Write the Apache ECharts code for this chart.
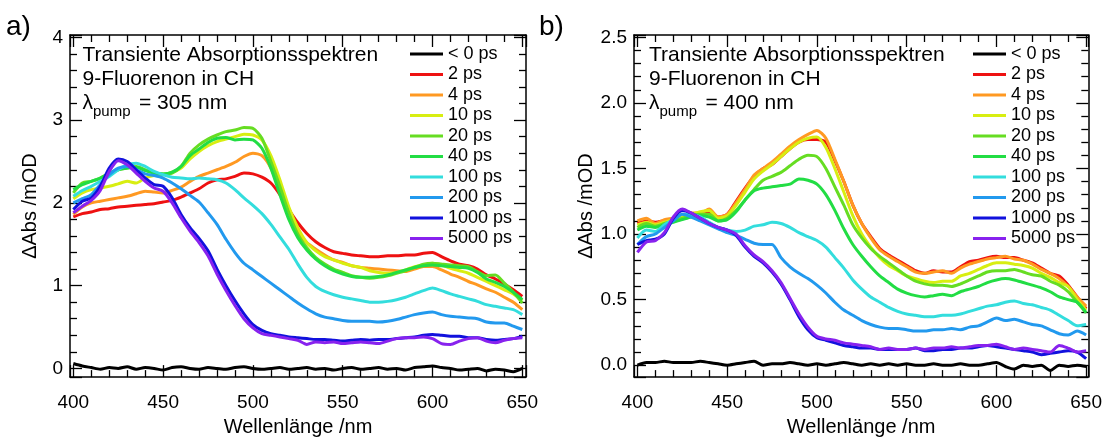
<!DOCTYPE html>
<html>
<head>
<meta charset="utf-8">
<script src="https://cdn.jsdelivr.net/npm/echarts@6/dist/echarts.min.js"></script>
<style>
html,body{margin:0;padding:0;background:#fff;}
#c{width:1105px;height:442px;}
</style>
</head>
<body>
<div id="c"></div>
<script>
// ---------- data ----------
const wavelengths = [400,405,410,415,420,425,430,435,440,445,450,455,460,465,470,475,480,485,490,495,500,505,510,515,520,525,530,535,540,545,550,555,560,565,570,575,580,585,590,595,600,605,610,615,620,625,630,635,640,645,650];
const seriesNames = ['< 0 ps','2 ps','4 ps','10 ps','20 ps','40 ps','100 ps','200 ps','1000 ps','5000 ps'];
const seriesColors = ['#000000','#ee1111','#ff9922','#d8ee11','#66dd22','#22dd44','#33dddd','#2299ee','#1111dd','#8822ee'];
const xTickLabels = ['400','450','500','550','600','650'];
const yTickLabelsA = ['0','1','2','3','4'];
const yTickLabelsB = ['0.0','0.5','1.0','1.5','2.0','2.5'];

// panel a) lambda_pump = 305 nm
const a_m0 = [0.06,0.03,0.01,-0.01,0.01,0.00,0.02,-0.01,0.01,0.00,
  -0.02,0.01,0.02,0.00,-0.01,0.01,0.00,-0.01,0.01,0.02,
  0.00,-0.01,0.00,0.01,-0.01,0.00,0.01,-0.01,0.00,-0.02,
  0.00,0.01,-0.01,0.00,0.01,-0.01,0.00,-0.02,0.01,0.02,
  0.03,0.01,0.00,-0.02,-0.01,0.00,-0.03,-0.01,-0.02,-0.04,0.00];
const a_2 = [1.83,1.87,1.89,1.92,1.93,1.95,1.96,1.97,1.98,1.99,
  2.01,2.03,2.07,2.12,2.17,2.24,2.28,2.29,2.32,2.36,
  2.35,2.31,2.24,2.10,1.92,1.76,1.63,1.53,1.46,1.41,
  1.39,1.37,1.36,1.35,1.35,1.36,1.36,1.37,1.37,1.39,
  1.40,1.35,1.30,1.26,1.24,1.20,1.13,1.08,1.02,0.95,0.87];
const a_4 = [1.86,1.95,2.00,2.02,2.04,2.06,2.08,2.11,2.14,2.13,
  2.12,2.15,2.19,2.26,2.32,2.36,2.40,2.44,2.49,2.56,
  2.60,2.57,2.42,2.15,1.90,1.66,1.52,1.44,1.37,1.31,
  1.28,1.24,1.22,1.21,1.20,1.19,1.18,1.17,1.20,1.23,
  1.23,1.19,1.14,1.10,1.05,1.01,0.96,0.92,0.86,0.80,0.71];
const a_10 = [2.05,2.12,2.16,2.18,2.20,2.23,2.26,2.24,2.30,2.33,
  2.34,2.37,2.42,2.53,2.62,2.69,2.74,2.77,2.80,2.83,
  2.82,2.76,2.57,2.28,1.95,1.70,1.52,1.42,1.35,1.31,
  1.27,1.24,1.22,1.18,1.16,1.15,1.16,1.19,1.23,1.25,
  1.27,1.25,1.21,1.18,1.15,1.10,1.05,1.00,0.95,0.90,0.82];
const a_20 = [2.12,2.24,2.26,2.30,2.36,2.40,2.42,2.44,2.40,2.36,
  2.35,2.36,2.44,2.60,2.70,2.77,2.82,2.86,2.88,2.91,
  2.90,2.78,2.50,2.20,1.88,1.62,1.46,1.34,1.26,1.20,
  1.16,1.12,1.10,1.09,1.10,1.12,1.15,1.18,1.22,1.26,
  1.27,1.26,1.25,1.24,1.23,1.17,1.12,1.13,1.03,0.92,0.79];
const a_40 = [2.16,2.22,2.26,2.30,2.35,2.40,2.42,2.43,2.39,2.36,
  2.35,2.37,2.44,2.57,2.65,2.73,2.78,2.79,2.76,2.77,
  2.76,2.66,2.42,2.10,1.80,1.58,1.43,1.32,1.24,1.18,
  1.14,1.11,1.10,1.10,1.11,1.13,1.16,1.19,1.22,1.24,
  1.25,1.24,1.23,1.22,1.21,1.16,1.08,1.04,0.99,0.92,0.83];
const a_100 = [2.08,2.15,2.20,2.26,2.32,2.40,2.46,2.48,2.44,2.38,
  2.34,2.31,2.30,2.29,2.30,2.29,2.28,2.24,2.16,2.06,
  1.97,1.87,1.74,1.59,1.44,1.26,1.10,0.99,0.93,0.89,
  0.86,0.84,0.82,0.80,0.80,0.81,0.83,0.86,0.90,0.94,
  0.97,0.94,0.90,0.87,0.84,0.81,0.77,0.75,0.73,0.71,0.65];
const a_200 = [2.00,2.05,2.10,2.22,2.34,2.42,2.44,2.40,2.35,2.33,
  2.30,2.24,2.17,2.09,2.01,1.88,1.74,1.56,1.40,1.27,
  1.19,1.11,1.03,0.95,0.87,0.79,0.72,0.66,0.62,0.60,
  0.58,0.57,0.57,0.57,0.56,0.57,0.59,0.62,0.65,0.67,
  0.68,0.65,0.63,0.62,0.61,0.60,0.56,0.55,0.55,0.51,0.47];
const a_1000 = [1.92,2.02,2.06,2.20,2.42,2.53,2.50,2.40,2.30,2.22,
  2.20,2.06,1.86,1.70,1.57,1.42,1.20,1.00,0.82,0.66,
  0.53,0.46,0.42,0.40,0.38,0.37,0.36,0.35,0.35,0.34,
  0.33,0.34,0.35,0.34,0.35,0.35,0.36,0.37,0.38,0.40,
  0.41,0.40,0.39,0.39,0.37,0.37,0.35,0.34,0.35,0.36,0.39];
const a_5000 = [1.88,1.96,2.03,2.15,2.38,2.51,2.46,2.36,2.26,2.18,
  2.14,2.00,1.82,1.66,1.52,1.36,1.14,0.94,0.76,0.60,
  0.49,0.42,0.40,0.38,0.36,0.34,0.29,0.32,0.31,0.32,
  0.30,0.31,0.32,0.31,0.30,0.33,0.36,0.37,0.37,0.38,
  0.36,0.30,0.29,0.33,0.36,0.37,0.33,0.31,0.34,0.36,0.37];

// panel b) lambda_pump = 400 nm
const b_m0 = [0.00,0.02,0.02,0.03,0.02,0.02,0.02,0.03,0.02,0.01,
  0.00,0.01,0.02,0.03,0.00,0.01,0.01,0.02,0.01,0.00,
  0.01,0.00,0.01,0.02,0.01,0.00,0.01,0.00,0.01,0.00,
  0.01,0.00,0.00,0.01,0.00,0.00,0.01,0.00,0.00,0.01,
  0.02,-0.01,-0.03,0.00,-0.01,0.00,-0.04,0.00,-0.01,0.00,-0.01];
const b_2 = [1.08,1.10,1.09,1.10,1.11,1.13,1.15,1.16,1.17,1.13,
  1.15,1.25,1.35,1.44,1.50,1.53,1.59,1.65,1.70,1.72,
  1.72,1.70,1.56,1.40,1.22,1.08,0.98,0.89,0.84,0.80,
  0.76,0.72,0.70,0.72,0.71,0.71,0.75,0.79,0.80,0.82,
  0.83,0.82,0.82,0.80,0.78,0.74,0.70,0.68,0.61,0.52,0.43];
const b_4 = [1.10,1.12,1.08,1.11,1.12,1.14,1.16,1.16,1.19,1.13,
  1.15,1.24,1.34,1.45,1.50,1.55,1.61,1.67,1.72,1.76,
  1.79,1.73,1.57,1.40,1.22,1.08,0.97,0.88,0.83,0.79,
  0.75,0.71,0.70,0.71,0.72,0.70,0.74,0.77,0.79,0.81,
  0.82,0.83,0.81,0.80,0.77,0.73,0.70,0.66,0.60,0.52,0.45];
const b_10 = [1.07,1.09,1.07,1.09,1.11,1.13,1.15,1.17,1.18,1.12,
  1.14,1.22,1.32,1.42,1.48,1.53,1.59,1.65,1.70,1.73,
  1.74,1.66,1.50,1.32,1.14,1.00,0.90,0.82,0.76,0.72,
  0.68,0.66,0.64,0.63,0.64,0.64,0.68,0.70,0.73,0.76,
  0.78,0.78,0.77,0.76,0.74,0.70,0.67,0.63,0.60,0.50,0.42];
const b_20 = [1.05,1.08,1.06,1.08,1.10,1.12,1.14,1.15,1.15,1.10,
  1.12,1.18,1.26,1.34,1.41,1.44,1.47,1.52,1.57,1.60,
  1.59,1.50,1.36,1.22,1.07,0.97,0.89,0.83,0.78,0.73,
  0.68,0.64,0.62,0.61,0.61,0.60,0.62,0.65,0.68,0.71,
  0.72,0.72,0.73,0.71,0.69,0.68,0.64,0.61,0.56,0.48,0.40];
const b_40 = [1.03,1.06,1.05,1.07,1.09,1.11,1.13,1.14,1.13,1.10,
  1.11,1.17,1.26,1.33,1.35,1.36,1.37,1.38,1.42,1.41,
  1.38,1.30,1.18,1.04,0.92,0.83,0.75,0.68,0.63,0.58,
  0.55,0.53,0.52,0.53,0.54,0.53,0.56,0.58,0.60,0.63,
  0.65,0.66,0.65,0.63,0.61,0.59,0.56,0.52,0.50,0.48,0.40];
const b_100 = [0.97,1.03,1.02,1.07,1.11,1.15,1.15,1.13,1.09,1.05,
  1.03,1.02,1.03,1.06,1.07,1.09,1.08,1.05,1.01,0.98,
  0.95,0.90,0.82,0.74,0.65,0.58,0.52,0.48,0.44,0.41,
  0.39,0.38,0.37,0.37,0.38,0.38,0.39,0.41,0.43,0.45,
  0.46,0.48,0.49,0.47,0.46,0.44,0.42,0.38,0.34,0.30,0.31];
const b_200 = [0.92,0.98,1.00,1.05,1.10,1.15,1.13,1.10,1.07,1.04,
  1.01,0.99,0.96,0.93,0.92,0.92,0.82,0.75,0.70,0.66,
  0.61,0.55,0.48,0.42,0.38,0.34,0.31,0.29,0.28,0.28,
  0.27,0.26,0.26,0.27,0.27,0.28,0.27,0.29,0.30,0.33,
  0.36,0.34,0.35,0.33,0.31,0.30,0.27,0.24,0.23,0.26,0.23];
const b_1000 = [0.92,0.95,0.96,1.00,1.12,1.18,1.16,1.12,1.08,1.05,
  1.03,0.99,0.90,0.83,0.78,0.71,0.62,0.50,0.37,0.27,
  0.21,0.19,0.17,0.15,0.14,0.13,0.13,0.12,0.12,0.12,
  0.12,0.13,0.11,0.11,0.12,0.12,0.13,0.13,0.14,0.15,
  0.14,0.13,0.12,0.11,0.10,0.08,0.09,0.10,0.11,0.10,0.05];
const b_5000 = [0.86,0.94,0.95,1.01,1.13,1.19,1.16,1.12,1.08,1.05,
  1.03,1.00,0.91,0.84,0.79,0.72,0.63,0.51,0.39,0.29,
  0.22,0.20,0.19,0.17,0.16,0.15,0.14,0.12,0.13,0.12,
  0.12,0.13,0.12,0.13,0.13,0.14,0.13,0.14,0.15,0.15,
  0.16,0.14,0.12,0.13,0.12,0.11,0.10,0.15,0.13,0.10,0.11];

const panelA = [a_m0,a_2,a_4,a_10,a_20,a_40,a_100,a_200,a_1000,a_5000];
const panelB = [b_m0,b_2,b_4,b_10,b_20,b_40,b_100,b_200,b_1000,b_5000];

// ---------- chart ----------
const FONT = 'Liberation Sans, Arial, Helvetica, sans-serif';
const chart = echarts.init(document.getElementById('c'), null, {renderer:'canvas'});

const tickStyle = {color:'#000', width:1.3};
function xAxis(gi, pos, min, max, showLabels) {
  return {
    type:'value', gridIndex:gi, position:pos, min:min, max:max, splitNumber:5,
    axisLine:{show:true, onZero:false, lineStyle:{color:'#000', width:1.5}},
    axisTick:{show:true, inside:true, length:12, lineStyle:tickStyle},
    minorTick:{show:true, splitNumber:5, length:7, lineStyle:tickStyle},
    splitLine:{show:false},
    axisLabel:{show:showLabels, showMinLabel:false, showMaxLabel:false, margin:16,
      color:'#000', fontSize:19, fontFamily:FONT,
      formatter:function(v){ const s=String(Math.round(v)); return xTickLabels.indexOf(s)>=0?s:''; }},
    name: showLabels ? 'Wellenlänge /nm' : '', nameLocation:'middle', nameGap:38,
    nameTextStyle:{color:'#000', fontSize:20, fontFamily:FONT}
  };
}
function yAxis(gi, pos, min, max, showLabels, labels, dec) {
  return {
    type:'value', gridIndex:gi, position:pos, min:min, max:max, splitNumber:5,
    axisLine:{show:true, onZero:false, lineStyle:{color:'#000', width:1.5}},
    axisTick:{show:true, inside:true, length:12, lineStyle:tickStyle},
    minorTick:{show:true, splitNumber:5, length:7, lineStyle:tickStyle},
    splitLine:{show:false},
    axisLabel:{show:showLabels, showMinLabel:false, showMaxLabel:false, margin:7,
      color:'#000', fontSize:19, fontFamily:FONT,
      formatter:function(v){ const s=v.toFixed(dec); return labels.indexOf(s)>=0?s:''; }},
    name: showLabels ? 'ΔAbs /mOD' : '', nameLocation:'middle', nameGap:dec?34:30,
    nameTextStyle:{color:'#000', fontSize:20, fontFamily:FONT}
  };
}

const series = [];
function addPanel(values, xi, yi) {
  values.forEach(function(arr, k){
    series.push({
      name: seriesNames[k], type:'line', xAxisIndex:xi, yAxisIndex:yi,
      data: wavelengths.map(function(w,i){ return [w, arr[i]]; }),
      symbol:'none', smooth:0.25, silent:true, animation:false,
      lineStyle:{width:3, color:seriesColors[k]}, itemStyle:{color:seriesColors[k]}
    });
  });
}
addPanel(panelA, 0, 0);
addPanel(panelB, 2, 2);

function legend(left) {
  return {
    orient:'vertical', left:left, top:39, data:seriesNames.slice(),
    icon:'rect', itemWidth:33, itemHeight:3, itemGap:0.5, selectedMode:false,
    textStyle:{color:'#000', fontSize:18, fontFamily:FONT, lineHeight:20}
  };
}

function annot(x0, pumpText) {
  const base = {fill:'#000', fontFamily:FONT};
  return [
    {type:'text', left:x0, top:45, style:Object.assign({text:'Transiente Absorptionsspektren', fontSize:21}, base)},
    {type:'text', left:x0, top:69, style:Object.assign({text:'9-Fluorenon in CH', fontSize:21}, base)},
    {type:'text', left:x0, top:93, style:Object.assign({text:'λ', fontSize:21}, base)},
    {type:'text', left:x0+10.5, top:104, style:Object.assign({text:'pump', fontSize:15}, base)},
    {type:'text', left:x0+56.5, top:93, style:Object.assign({text:'= ' + pumpText, fontSize:21}, base)}
  ];
}

const option = {
  animation:false,
  backgroundColor:'#fff',
  grid:[
    {left:70, top:35, width:456, height:343, containLabel:false},
    {left:634, top:35, width:455, height:343, containLabel:false}
  ],
  xAxis:[
    xAxis(0,'bottom',398.15,652.05,true),
    xAxis(0,'top',398.15,652.05,false),
    xAxis(1,'bottom',398.1,651.2,true),
    xAxis(1,'top',398.1,651.2,false)
  ],
  yAxis:[
    yAxis(0,'left',-0.105,4.028,true,yTickLabelsA,0),
    yAxis(0,'right',-0.105,4.028,false,yTickLabelsA,0),
    yAxis(1,'left',-0.091,2.5175,true,yTickLabelsB,1),
    yAxis(1,'right',-0.091,2.5175,false,yTickLabelsB,1)
  ],
  legend:[legend(405), legend(968)],
  series: series,
  graphic: [].concat(
    annot(82.5, '305 nm'),
    annot(649, '400 nm'),
    [
      {type:'text', left:6, top:13, style:{text:'a)', fontSize:28, fill:'#000', fontFamily:FONT}},
      {type:'text', left:539, top:13, style:{text:'b)', fontSize:28, fill:'#000', fontFamily:FONT}}
    ]
  )
};
chart.setOption(option);
</script>
</body>
</html>
